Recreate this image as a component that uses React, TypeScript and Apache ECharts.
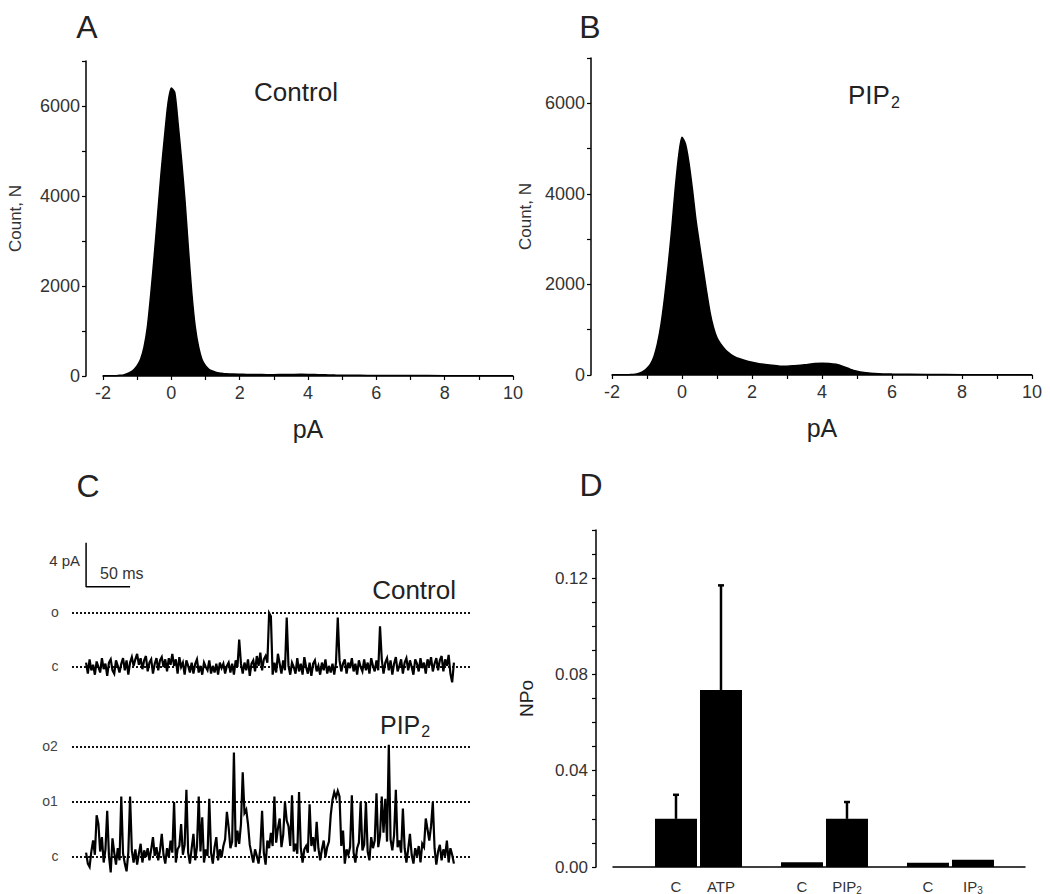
import React, { useEffect, useRef } from "react";
import * as echarts from "echarts";

const FONT = "'Liberation Sans', Arial, Helvetica, sans-serif";

// ---------- Panels A & B : all-points amplitude histograms ----------
const histCurrent = [
  -2.0, -1.6, -1.5, -1.4, -1.3, -1.2, -1.1, -1.0, -0.9, -0.8, -0.7, -0.6, -0.5, -0.4, -0.3, -0.2, -0.1,
  0.0, 0.1, 0.2, 0.3, 0.4, 0.5, 0.6, 0.7, 0.8, 0.9, 1.0, 1.1, 1.2, 1.3, 1.4, 1.5, 1.6,
  1.8, 2.0, 2.2, 2.5, 2.8, 3.0, 3.2, 3.5, 3.8, 4.0, 4.2, 4.4, 4.6, 4.8, 5.0, 5.2, 5.5, 6.0, 7.0, 8.0, 9.0, 10.0,
];
const controlCounts = [
  5, 8, 15, 25, 50, 85, 140, 230, 370, 640, 1100, 1840, 2680, 3600, 4520, 5320, 6050,
  6400, 6300, 5600, 4800, 3900, 2830, 1840, 1090, 640, 360, 230, 150, 110, 85, 68, 58, 50,
  42, 38, 35, 32, 30, 30, 32, 35, 38, 36, 32, 28, 24, 20, 18, 16, 14, 12, 10, 8, 6, 5,
];
const pip2Counts = [
  3, 5, 8, 12, 22, 45, 85, 147, 240, 410, 700, 1120, 1700, 2390, 3170, 4060, 4810,
  5250, 5100, 4680, 4090, 3420, 2890, 2370, 1860, 1390, 1050, 820, 690, 590, 510, 450, 405, 370,
  320, 280, 250, 220, 195, 195, 205, 225, 255, 262, 255, 235, 190, 130, 85, 58, 35, 20, 12, 8, 5, 4,
];

// ---------- Panel C : single-channel current traces (pA) ----------
const SAMPLE_START_MS = 16;
const SAMPLE_STEP_MS = 2;
const TRACE_WINDOW_MS = 453.4;
const controlTrace = [
  0.4, -0.6, 0.7, -0.3, 0.2, -0.7, 0.5, 0.0, -0.5, 0.8, -0.2, 0.3, -0.8, 0.4, 0.7, -0.3, -0.6, 0.6, 0.1, -0.5,
  0.3, 0.8, -0.3, 0.6, -0.7, 0.4, 0.9, 0.1, 0.7, 1.2, 0.2, 0.8, -0.2, 0.6, 1.0, -0.4, 0.4, 0.7, -0.6, 0.3,
  0.8, -0.3, 0.6, 0.9, 0.0, 0.7, -0.4, 0.8, 0.2, 1.2, 0.1, 0.7, -0.6, 0.9, 0.0, 0.4, -0.7, 0.6, 0.1, -0.5,
  0.4, -0.6, 0.3, 0.7, -0.5, 0.1, -0.7, 0.4, 0.0, -0.3, 0.6, -0.6, 0.1, -0.5, 0.3, -0.7, 0.4, -0.1, 0.3, -0.6,
  0.1, 0.4, -0.5, 0.3, -0.7, 0.6, 0.0, 2.5, 0.3, -0.6, 0.4, -0.3, 0.7, -0.8, 0.3, 0.6, -0.4, 1.0, 0.1, 1.3,
  -0.3, 0.7, 1.0, 0.4, 4.9, 4.6, -0.7, 0.4, -0.5, 1.2, 0.3, -0.6, 0.6, -0.3, 4.5, 0.1, -0.7, 0.4, 0.0, -0.6,
  0.8, -0.4, 0.3, -0.7, 0.9, 0.0, -0.6, 0.4, -0.8, 0.3, 0.6, -0.4, 0.1, -0.7, 0.4, -0.3, 0.7, -0.6, 0.1, -0.5,
  0.3, -0.7, 0.4, 4.5, 0.6, -0.4, 0.3, 0.7, -0.6, 0.4, -0.1, 0.8, -0.4, 0.3, -0.7, 0.6, 0.0, -0.4, 0.7, -0.3,
  0.4, -0.6, 0.8, 0.1, -0.4, 0.6, -0.3, 3.7, 0.7, -0.6, 0.4, 0.8, -0.3, 0.6, -0.7, 0.3, 0.9, -0.4, 0.1, 0.7,
  -0.6, 0.4, 0.8, -0.3, 0.6, 0.0, -0.7, 0.7, 0.3, -0.4, 0.8, -0.1, 0.4, -0.6, 0.7, 0.1, 0.9, -0.4, 0.3, 0.8,
  -0.3, 0.6, 1.0, -0.4, 0.7, 0.1, 1.1, -0.6, -1.4, 0.4,
];
const pip2Trace = [
  0.4, -0.6, -0.9, 0.5, 1.5, 0.2, 3.8, 3.0, 0.5, 1.8, -0.5, 0.7, 4.2, 0.1, -1.4, 1.7, 0.4, -0.7, 0.8, -0.3,
  5.5, 0.3, -0.6, -1.3, 0.4, 5.5, 0.6, -0.5, 0.7, -0.7, 0.3, 1.2, -0.5, 0.6, 0.0, 0.8, -0.3, 0.7, 1.8, 0.1,
  0.9, -0.3, 0.6, 2.1, 0.2, -0.6, 0.8, 0.0, 1.5, 0.4, 5.0, -0.5, 0.7, 1.0, 3.0, 0.2, 1.1, 6.1, 0.4, -0.6,
  0.8, 2.1, -0.3, 0.9, 5.5, 0.5, 3.6, -0.5, 0.7, 0.1, 5.3, 0.4, -0.6, 0.9, 1.8, -0.3, 0.7, 0.0, 1.0, 1.6,
  4.1, 2.7, 0.8, 1.4, 9.5, 0.9, 2.4, 1.2, 3.0, 7.7, 4.0, 4.3, 3.0, 1.1, 0.3, -0.5, 0.7, 0.1, -0.6, 0.8,
  4.2, 0.4, -0.7, 1.5, 0.8, 2.2, 1.0, 5.5, 1.3, 2.6, 3.5, 0.9, 2.0, 5.0, 3.3, 2.8, 1.0, 5.6, 0.5, 1.2,
  0.3, 5.9, 0.8, -0.5, 0.7, 1.0, 0.4, 4.8, 1.0, 1.8, 0.5, 3.2, 0.8, -0.3, 0.7, 1.5, 0.0, 0.9, 1.4, 3.8,
  5.2, 5.9, 5.4, 6.0, 5.5, 1.0, 2.4, -0.6, 0.7, 0.2, 0.9, 5.6, 0.4, -0.5, 0.8, 1.3, 5.0, 0.6, 1.1, 5.0,
  0.5, -0.3, 1.8, 0.8, 1.5, 5.8, 0.9, 1.9, 5.5, 2.2, 5.3, 1.4, 10.2, 1.6, 0.6, 2.0, 6.1, 0.9, 1.5, 0.4,
  4.4, 0.8, -0.5, 0.7, 2.1, 0.2, -0.6, 0.8, 0.1, 1.0, -0.5, 1.2, 0.9, 3.5, 2.5, 1.5, 2.8, 5.0, 0.8, -0.7,
  0.5, 1.1, -0.3, 0.7, 0.1, 1.5, -0.5, 0.8, 0.2, -0.6,
];
const controlLevels = [0, 4.9]; // c, o
const pip2Levels = [0, 5, 10]; // c, o1, o2
const scaleBarOrigin = [16, 7.3]; // ms, pA
const scaleBarPA = 4;
const scaleBarMS = 50;

// ---------- Panel D : NPo bar chart ----------
const barPositions = [1.4, 2.4, 4.2, 5.2, 7.0, 8.0];
const barLabels = ["C", "ATP", "C", "PIP|2", "C", "IP|3"];
const npoMeans = [0.02, 0.0735, 0.002, 0.02, 0.0018, 0.003];
const npoUpper: (number | null)[] = [0.03, 0.117, null, 0.027, null, null];

const tickLabel = { fontSize: 18, color: "#333", fontFamily: FONT };

function histYAxis(grid: number, offset: number, nameGap: number) {
  return {
    gridIndex: grid,
    type: "value",
    min: 0,
    max: 7000,
    interval: 1000,
    offset,
    name: "Count, N",
    nameLocation: "middle",
    nameGap,
    nameTextStyle: { fontSize: 17, color: "#333", fontFamily: FONT },
    axisLine: { show: true, onZero: false, lineStyle: { color: "#000", width: 1.5 } },
    axisTick: { show: true, length: 4, lineStyle: { color: "#000", width: 1.2 } },
    axisLabel: { ...tickLabel, margin: 6, formatter: (v: number) => (v % 2000 === 0 ? String(v) : "") },
    splitLine: { show: false },
  };
}
function histXAxis(grid: number) {
  return {
    gridIndex: grid,
    type: "value",
    min: -2,
    max: 10,
    interval: 1,
    name: "pA",
    nameLocation: "middle",
    nameGap: 40,
    nameTextStyle: { fontSize: 25, color: "#222", fontFamily: FONT },
    axisLine: { show: true, onZero: false, lineStyle: { color: "#000", width: 1.5 } },
    axisTick: { show: true, length: 4, lineStyle: { color: "#000", width: 1.2 } },
    axisLabel: { ...tickLabel, margin: 8, formatter: (v: number) => (Math.round(v) % 2 === 0 ? String(v) : "") },
    splitLine: { show: false },
  };
}
function hidden(grid: number, min: number, max: number) {
  return { gridIndex: grid, type: "value", min, max, show: false, splitLine: { show: false } };
}
function levelLine(xi: number, level: number) {
  return {
    type: "line",
    xAxisIndex: xi,
    yAxisIndex: xi,
    data: [
      [0, level],
      [TRACE_WINDOW_MS, level],
    ],
    symbol: "none",
    lineStyle: { color: "#111", width: 2, type: [2, 2] },
    silent: true,
  };
}
function traceSeries(xi: number, values: number[]) {
  return {
    type: "line",
    xAxisIndex: xi,
    yAxisIndex: xi,
    data: values.map((v, i) => [SAMPLE_START_MS + i * SAMPLE_STEP_MS, v]),
    symbol: "none",
    lineStyle: { color: "#000", width: 2.2, join: "miter" },
    silent: true,
  };
}
function histSeries(i: number, counts: number[]) {
  return {
    type: "line",
    xAxisIndex: i,
    yAxisIndex: i,
    data: histCurrent.map((x, k) => [x, counts[k]]),
    symbol: "none",
    smooth: 0.25,
    lineStyle: { color: "#000", width: 1.5 },
    areaStyle: { color: "#000", opacity: 1 },
    silent: true,
  };
}
function txt(text: string, x: number, y: number, fontSize: number, align = "center", fill = "#222") {
  return {
    type: "text",
    x,
    y,
    style: { text, fontSize, fill, fontFamily: FONT, align, verticalAlign: "middle" },
  };
}
function subTxt(main: string, sub: string, x: number, y: number, fontSize: number) {
  return {
    type: "text",
    x,
    y,
    style: {
      text: `{m|${main}}{s|${sub}}`,
      align: "left",
      verticalAlign: "middle",
      rich: {
        m: { fontSize, fill: "#222", fontFamily: FONT, lineHeight: fontSize + 4 },
        s: { fontSize: Math.round(fontSize * 0.62), fill: "#222", fontFamily: FONT, verticalAlign: "bottom", padding: [12, 0, 0, 1] },
      },
    },
  };
}

export default function App() {
  const ref = useRef<HTMLDivElement>(null);
  useEffect(() => {
    if (!ref.current) return;
    const chart = echarts.init(ref.current, null, { renderer: "svg" });
    const option = {
      animation: false,
      backgroundColor: "#fff",
      grid: [
        { left: 103, top: 61, width: 410, height: 315 },
        { left: 612, top: 58, width: 420, height: 317 },
        { left: 72, top: 524, width: 399, height: 165 },
        { left: 72, top: 725, width: 399, height: 154 },
        { left: 613, top: 530, width: 412, height: 337 },
      ],
      xAxis: [
        histXAxis(0),
        histXAxis(1),
        hidden(2, 0, TRACE_WINDOW_MS),
        hidden(3, 0, TRACE_WINDOW_MS),
        {
          gridIndex: 4,
          type: "value",
          min: 0,
          max: 9.156,
          axisLine: { show: true, onZero: false, lineStyle: { color: "#000", width: 1.5 } },
          axisTick: { show: false },
          axisLabel: { show: false },
          splitLine: { show: false },
        },
      ],
      yAxis: [
        histYAxis(0, 17, 62),
        histYAxis(1, 21, 57),
        hidden(2, -2, 13),
        hidden(3, -2, 12),
        {
          gridIndex: 4,
          type: "value",
          min: 0,
          max: 0.14,
          interval: 0.01,
          offset: 17,
          name: "NPo",
          nameLocation: "middle",
          nameGap: 60,
          nameTextStyle: { fontSize: 19, color: "#222", fontFamily: FONT, fontWeight: 500 },
          axisLine: { show: true, onZero: false, lineStyle: { color: "#000", width: 1.5 } },
          axisTick: { show: true, length: 4, lineStyle: { color: "#000", width: 1.2 } },
          axisLabel: {
            fontSize: 17,
            color: "#333",
            fontFamily: FONT,
            margin: 8,
            formatter: (v: number) => (Math.round(v * 100) % 4 === 0 ? v.toFixed(2) : ""),
          },
          splitLine: { show: false },
        },
      ],
      series: [
        histSeries(0, controlCounts),
        histSeries(1, pip2Counts),
        ...controlLevels.map((l) => levelLine(2, l)),
        traceSeries(2, controlTrace),
        {
          type: "line",
          xAxisIndex: 2,
          yAxisIndex: 2,
          data: [
            [scaleBarOrigin[0], scaleBarOrigin[1] + scaleBarPA],
            [scaleBarOrigin[0], scaleBarOrigin[1]],
            [scaleBarOrigin[0] + scaleBarMS, scaleBarOrigin[1]],
          ],
          symbol: "none",
          lineStyle: { color: "#000", width: 1.5 },
          silent: true,
        },
        ...pip2Levels.map((l) => levelLine(3, l)),
        traceSeries(3, pip2Trace),
        {
          type: "bar",
          xAxisIndex: 4,
          yAxisIndex: 4,
          barWidth: 42,
          data: barPositions.map((x, i) => [x, npoMeans[i]]),
          itemStyle: { color: "#000" },
          label: {
            show: true,
            position: "bottom",
            distance: 10,
            formatter: (p: any) => {
              const [m, s] = barLabels[p.dataIndex].split("|");
              return s ? `{m|${m}}{s|${s}}` : `{m|${m}}`;
            },
            rich: {
              m: { fontSize: 15, color: "#333", fontFamily: FONT, lineHeight: 18 },
              s: { fontSize: 10, color: "#333", fontFamily: FONT, lineHeight: 10, verticalAlign: "bottom", padding: [8, 0, 0, 0] },
            },
          },
          silent: true,
        },
        {
          type: "custom",
          xAxisIndex: 4,
          yAxisIndex: 4,
          data: barPositions
            .map((x, i) => [x, npoMeans[i], npoUpper[i]])
            .filter((d) => d[2] !== null),
          renderItem: (_params: any, api: any) => {
            const p0 = api.coord([api.value(0), api.value(1)]);
            const p1 = api.coord([api.value(0), api.value(2)]);
            return {
              type: "group",
              children: [
                { type: "line", shape: { x1: p0[0], y1: p0[1], x2: p1[0], y2: p1[1] }, style: { stroke: "#000", lineWidth: 2.5 } },
                { type: "line", shape: { x1: p1[0] - 3, y1: p1[1], x2: p1[0] + 3, y2: p1[1] }, style: { stroke: "#000", lineWidth: 2.5 } },
              ],
            };
          },
          silent: true,
        },
      ],
      graphic: [
        txt("A", 87, 27, 32),
        txt("B", 590, 27, 32),
        txt("C", 88, 486, 32),
        txt("D", 591, 485, 32),
        txt("Control", 296, 92, 26),
        subTxt("PIP", "2", 848, 95, 26),
        txt("Control", 456, 590, 26, "right"),
        subTxt("PIP", "2", 380, 725, 25),
        txt("4 pA", 80, 560, 15, "right", "#333"),
        txt("50 ms", 100, 573, 16, "left", "#333"),
        txt("o", 55, 612, 14, "center", "#444"),
        txt("c", 55, 666, 14, "center", "#444"),
        txt("o2", 50, 746, 14, "center", "#444"),
        txt("o1", 50, 801, 14, "center", "#444"),
        txt("c", 55, 856, 14, "center", "#444"),
      ],
    };
    chart.setOption(option as any);
    return () => chart.dispose();
  }, []);
  return (
    <div
      ref={ref}
      style={{ position: "fixed", left: 0, top: 0, width: 1050, height: 894, background: "#fff" }}
    />
  );
}
